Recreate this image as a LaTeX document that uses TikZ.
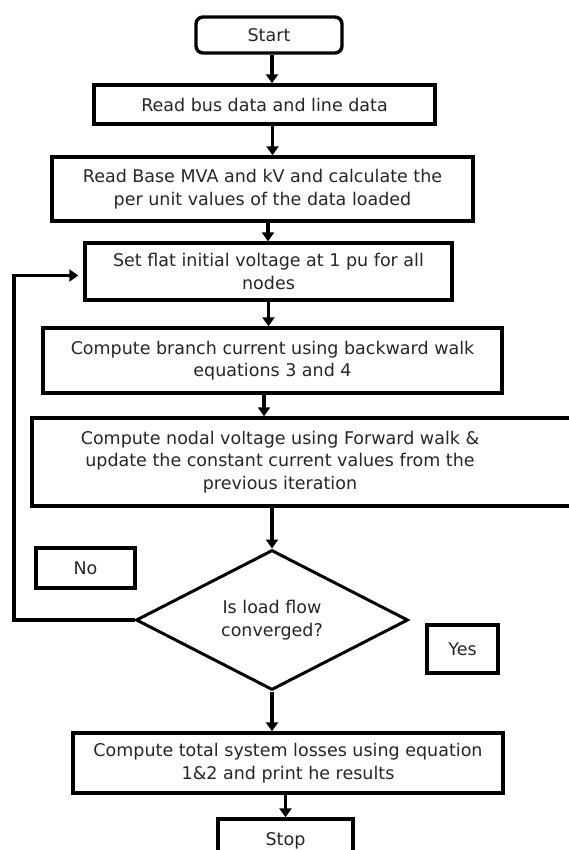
\documentclass[tikz,border=0pt]{standalone}
\usepackage{fontspec}
\setmainfont{DejaVu Sans}
\usetikzlibrary{arrows.meta,shapes.geometric}
\tikzset{
	stepbox/.style={draw, line width=3.4pt, align=center, inner sep=2pt, text=black!85},
	termbox/.style={stepbox, rounded corners=7pt},
	decision/.style={draw, diamond, line width=3pt, aspect=1.95, inner sep=0pt, align=center, text=black!85},
	flow/.style={line width=3.4pt, -{Triangle[length=9pt,width=12pt]}},
}

\begin{document}
\begin{tikzpicture}[x=1pt, y=-1pt, font=\fontsize{17.5}{22.5}\selectfont]
		%%%%% START %%%%%
		\useasboundingbox (0,0) rectangle (569,850);
		
		\node[termbox, minimum width=146pt, minimum height=36pt] (start) at (269,35) {Start};
		\node[stepbox, minimum width=341pt, minimum height=39pt] (readbus) at (264.5,104.5) {Read bus data and line data};
		\node[stepbox, minimum width=421pt, minimum height=64pt] (readbase) at (262.5,189) {Read Base MVA and kV and calculate the\\per unit values of the data loaded};
		\node[stepbox, minimum width=367pt, minimum height=57pt] (setflat) at (268.5,271.5) {Set flat initial voltage at 1 pu for all\\nodes};
		\node[stepbox, minimum width=459pt, minimum height=65pt] (branch) at (272.5,360.5) {Compute branch current using backward walk\\equations 3 and 4};
		% box runs off the right edge, text stays centred at x=280
		\node[stepbox, minimum width=543pt, minimum height=88pt,
			label={[align=center, text=black!85, xshift=-23.5pt]center:Compute nodal voltage using Forward walk \&\\update the constant current values from the\\previous iteration}] (nodal) at (303.5,462) {};
		
		\node[decision, minimum width=272pt, minimum height=140pt] (conv) at (272,620) {Is load flow\\converged?};
		\node[stepbox, minimum width=99pt, minimum height=40pt] (no) at (85.5,568) {No};
		\node[stepbox, minimum width=71pt, minimum height=48pt] (yes) at (462.5,649) {Yes};
		
		\node[stepbox, minimum width=430pt, minimum height=60pt] (total) at (288,763) {Compute total system losses using equation\\1\&2 and print he results};
		\node[stepbox, minimum width=135pt, minimum height=40pt, text depth=0pt] (stop) at (285.5,839) {Stop};
		
		\draw[flow] ([xshift=3pt]start.south) -- ([xshift=3pt]start.south |- readbus.north);
		\draw[flow] ([xshift=8pt]readbus.south) -- ([xshift=8pt]readbus.south |- readbase.north);
		\draw[flow] ([xshift=5.5pt]readbase.south) -- ([xshift=5.5pt]readbase.south |- setflat.north);
		\draw[flow] (setflat.south) -- (setflat.south |- branch.north);
		\draw[flow] ([xshift=-8.5pt]branch.south) -- ([xshift=-8.5pt]branch.south |- nodal.north);
		\draw[flow] (conv.north |- nodal.south) -- (conv.north);
		\draw[flow] (conv.south) -- (conv.south |- total.north);
		\draw[flow] (stop.north |- total.south) -- (stop.north);
		
		% back to the flat start when not converged
		\coordinate (loop) at (14,0);
		\draw[flow, shorten >=5pt] (conv.west) -- (conv.west -| loop) |- ([yshift=-4pt]setflat.west);
		
		%%%%% END %%%%%
\end{tikzpicture}
\end{document}
